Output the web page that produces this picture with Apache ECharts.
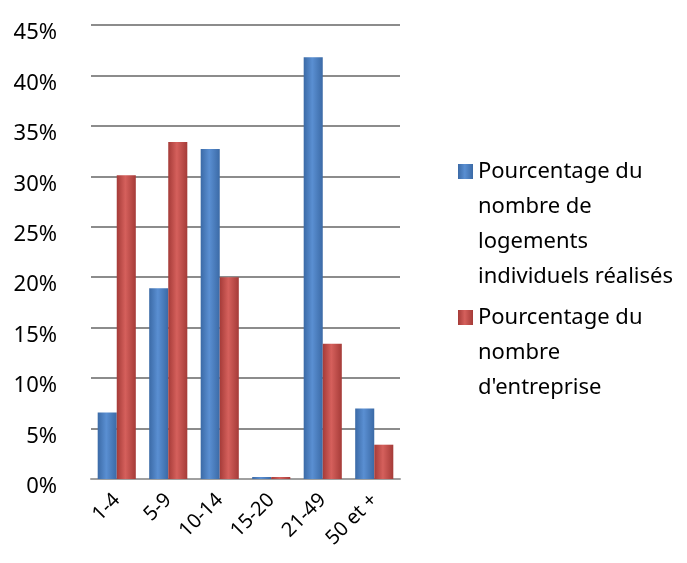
<!DOCTYPE html>
<html><head><meta charset="utf-8">
<script src="https://cdn.jsdelivr.net/npm/echarts@6/dist/echarts.min.js"></script>
<style>html,body{margin:0;padding:0;background:#fff}#c{width:687px;height:563px}</style>
</head><body><div id="c"></div>
<script>
const categories = ['1-4', '5-9', '10-14', '15-20', '21-49', '50 et +'];
const logements = [6.6, 18.9, 32.7, 0.2, 41.8, 7.0];
const entreprises = [30.1, 33.4, 20.0, 0.2, 13.4, 3.4];
const seriesNames = ['Pourcentage du\nnombre de\nlogements\nindividuels réalisés', 'Pourcentage du\nnombre\nd\'entreprise'];
const yTicks = { min: 0, max: 45, interval: 5 };

const FONT = 'Noto Sans';
function grad(edge, mid) {
  return new echarts.graphic.LinearGradient(0, 0, 1, 0, [
    { offset: 0, color: edge }, { offset: 0.45, color: mid }, { offset: 1, color: edge }
  ]);
}
// prepend empty lines so the first text line sits beside the legend icon
function topAlign(name) {
  const n = name.split('\n').length;
  return '\n'.repeat(n - 1) + name;
}
const chart = echarts.init(document.getElementById('c'));
const LH = 35;
const legendText = { fontFamily: FONT, fontSize: 22, color: '#000', lineHeight: LH };
chart.setOption({
  animation: false,
  backgroundColor: '#fff',
  grid: { left: 91, right: 287, top: 25, bottom: 84, containLabel: false },
  legend: [
    { data: [{ name: seriesNames[0], icon: 'rect' }], orient: 'vertical', left: 453, top: 44,
      itemWidth: 15, itemHeight: 15, itemGap: 0, formatter: topAlign, textStyle: legendText },
    { data: [{ name: seriesNames[1], icon: 'rect' }], orient: 'vertical', left: 453, top: 225,
      itemWidth: 15, itemHeight: 15, itemGap: 0, formatter: topAlign, textStyle: legendText }
  ],
  xAxis: {
    type: 'category', data: categories,
    axisLine: { lineStyle: { color: '#a0a0a0', width: 2 } },
    axisTick: { show: false },
    axisLabel: { rotate: 45, fontFamily: FONT, fontSize: 20, color: '#000', margin: 18, interval: 0 }
  },
  yAxis: {
    type: 'value', min: yTicks.min, max: yTicks.max, interval: yTicks.interval,
    axisLine: { show: false }, axisTick: { show: false },
    axisLabel: { formatter: v => v + '%', fontFamily: FONT, fontSize: 22, color: '#000', margin: 34,
      verticalAlign: 'top', lineHeight: 16 },
    splitLine: { lineStyle: { color: '#8c8c8c', width: 2 } }
  },
  series: [
    { name: seriesNames[0], type: 'bar', data: logements, barGap: '0%', barCategoryGap: '26%',
      itemStyle: { color: grad('#3b6aa6', '#5a8fd2') } },
    { name: seriesNames[1], type: 'bar', data: entreprises,
      itemStyle: { color: grad('#a53b38', '#d5605c') } }
  ]
});
</script></body></html>
